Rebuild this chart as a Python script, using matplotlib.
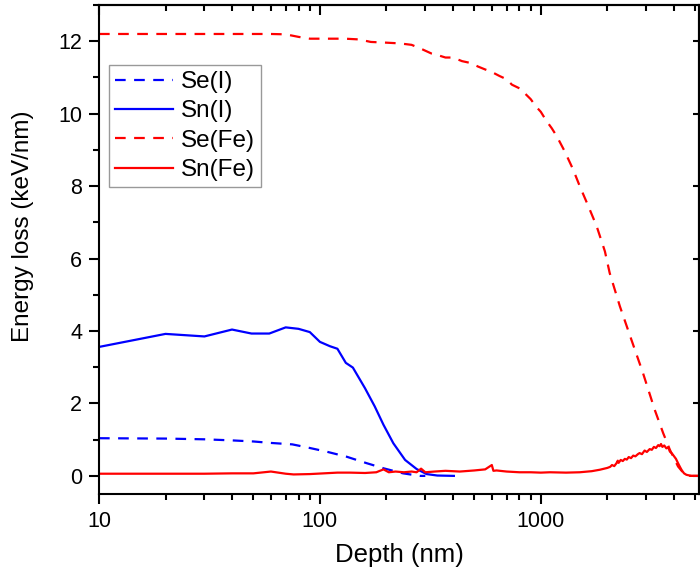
import matplotlib
matplotlib.use('Agg')
import matplotlib.pyplot as plt
from matplotlib.ticker import MultipleLocator, LogLocator, NullFormatter, NullLocator
import numpy as np

plt.rcParams['font.family'] = ['Liberation Sans', 'DejaVu Sans']

# depth (nm) / energy loss (keV/nm)
se_fe_x = [10, 20, 40, 60, 70, 80, 90, 130, 150, 170, 200, 230, 260, 285, 320, 340,
           370, 400, 440, 480, 520, 560, 600, 650, 700, 740, 800, 850, 900, 950, 1000,
           1060, 1120, 1180, 1280, 1400, 1500, 1640, 1790, 1950, 2050, 2280,
           2570, 2900, 3280, 3580, 3840, 4180, 4490, 4700, 5200]
se_fe_y = [12.2, 12.2, 12.2, 12.2, 12.19, 12.12, 12.07, 12.07, 12.05, 11.98, 11.96,
           11.94, 11.9, 11.8, 11.66, 11.62, 11.55, 11.55, 11.45, 11.4, 11.3, 11.22,
           11.15, 11.04, 10.95, 10.8, 10.7, 10.55, 10.4, 10.2, 10.05, 9.8, 9.6, 9.38,
           8.97, 8.46, 8.0, 7.45, 6.89, 6.2, 5.6, 4.68, 3.76, 2.84, 1.82, 1.18,
           0.72, 0.26, 0.03, 0.0, 0.0]

se_i_x = [10, 20, 30, 40, 50, 60, 75, 87, 107, 132, 163, 194, 238, 283, 300]
se_i_y = [1.04, 1.03, 1.01, 0.98, 0.95, 0.91, 0.87, 0.79, 0.67, 0.53, 0.35, 0.21,
          0.07, 0.0, 0.0]

sn_i_x = [10, 20, 30, 40, 49, 59, 70, 80, 90, 100, 111, 120, 131, 141, 160, 177, 194,
          215, 243, 274, 304, 340, 404]
sn_i_y = [3.56, 3.92, 3.85, 4.04, 3.93, 3.93, 4.10, 4.06, 3.97, 3.70, 3.58, 3.51, 3.12,
          2.99, 2.42, 1.92, 1.41, 0.90, 0.44, 0.19, 0.05, 0.01, 0.0]

sn_fe_x = [10, 20, 30, 40, 50, 60, 70, 76, 90, 104, 120, 137, 160, 180, 194, 205, 220,
           240, 260, 274, 287, 300, 330, 370, 430, 500, 560, 600, 610, 630, 700, 800,
           900, 1000, 1100, 1300, 1500, 1700, 1850, 2000, 2060, 2100, 2150, 2200, 2230,
           2250, 2300, 2350, 2400, 2450, 2500, 2560, 2620, 2680, 2750, 2800, 2870, 2950,
           3020, 3110, 3180, 3250, 3320, 3400, 3450, 3500, 3550, 3620, 3700, 3770, 3840,
           3920, 4000, 4090, 4180, 4270, 4350, 4450, 4560, 4800, 5200]
sn_fe_y = [0.06, 0.06, 0.06, 0.07, 0.07, 0.12, 0.06, 0.04, 0.05, 0.07, 0.09, 0.09, 0.08,
           0.1, 0.18, 0.1, 0.12, 0.1, 0.12, 0.1, 0.2, 0.1, 0.12, 0.14, 0.12, 0.15, 0.18,
           0.3, 0.14, 0.15, 0.12, 0.1, 0.1, 0.09, 0.1, 0.09, 0.1, 0.13, 0.17, 0.22, 0.25,
           0.3, 0.27, 0.35, 0.42, 0.36, 0.44, 0.41, 0.47, 0.45, 0.52, 0.49, 0.56, 0.54,
           0.6, 0.63, 0.6, 0.7, 0.66, 0.74, 0.72, 0.8, 0.77, 0.85, 0.82, 0.88, 0.8, 0.84,
           0.76, 0.79, 0.67, 0.62, 0.55, 0.47, 0.35, 0.24, 0.15, 0.07, 0.03, 0.0, 0.0]

xticks = [10, 100, 1000]
xticklabels = ['10', '100', '1000']

blue = '#0000ff'
red = '#ff0000'


def main():
    fig = plt.figure(figsize=(7.0, 5.78), dpi=100)
    ax = fig.add_axes([99/700, 1 - 494/578, 600/700, 489/578])

    dash = (4.8, 3.8)
    ax.plot(se_i_x, se_i_y, color=blue, lw=1.6, ls=(0, dash), label='Se(I)')
    ax.plot(sn_i_x, sn_i_y, color=blue, lw=1.6, label='Sn(I)')
    ax.plot(se_fe_x, se_fe_y, color=red, lw=1.6, ls=(0, dash), label='Se(Fe)')
    ax.plot(sn_fe_x, sn_fe_y, color=red, lw=1.6, label='Sn(Fe)')

    ax.set_xscale('log')
    ax.set_xlim(10, 5200)
    ax.set_ylim(-0.5, 13)
    ax.set_xticks(xticks)
    ax.set_xticklabels(xticklabels)
    ax.xaxis.set_minor_locator(LogLocator(base=10, subs=np.arange(2, 10)))
    ax.xaxis.set_minor_formatter(NullFormatter())
    ax.yaxis.set_major_locator(MultipleLocator(2))
    ax.yaxis.set_minor_locator(MultipleLocator(1))

    ax.tick_params(which='major', direction='out', length=7, width=1.5,
                   labelsize=15.5, pad=5)
    ax.tick_params(which='minor', direction='out', length=4, width=1.5)
    for s in ax.spines.values():
        s.set_linewidth(1.5)

    top = ax.secondary_xaxis('top')
    top.set_xticks(xticks)
    top.xaxis.set_minor_locator(LogLocator(base=10, subs=np.arange(2, 10)))
    top.xaxis.set_minor_formatter(NullFormatter())
    top.tick_params(which='major', direction='in', length=7, width=1.5, labeltop=False)
    top.tick_params(which='minor', direction='in', length=4, width=1.5)
    top.spines['top'].set_linewidth(1.5)

    right = ax.secondary_yaxis('right')
    right.yaxis.set_major_locator(MultipleLocator(2))
    right.yaxis.set_minor_locator(NullLocator())
    right.tick_params(which='major', direction='in', length=4, width=1.5, labelright=False)
    right.spines['right'].set_linewidth(1.5)

    ax.set_xlabel('Depth (nm)', fontsize=18.5)
    ax.set_ylabel('Energy loss (keV/nm)', fontsize=17.5)
    ax.xaxis.set_label_coords(0.5, -0.10)
    ax.yaxis.set_label_coords(-0.108, 0.548)

    leg = ax.legend(loc='upper left', bbox_to_anchor=(10/600, (494-65)/489),
                    borderaxespad=0, fontsize=17.5, frameon=True, fancybox=False,
                    handlelength=2.4, handletextpad=0.3, labelspacing=0.3,
                    borderpad=0.25)
    leg.get_frame().set_edgecolor('#808080')
    leg.get_frame().set_linewidth(1.0)

    fig.savefig('out.png', dpi=100)
    plt.close()


if __name__ == "__main__":
    main()
